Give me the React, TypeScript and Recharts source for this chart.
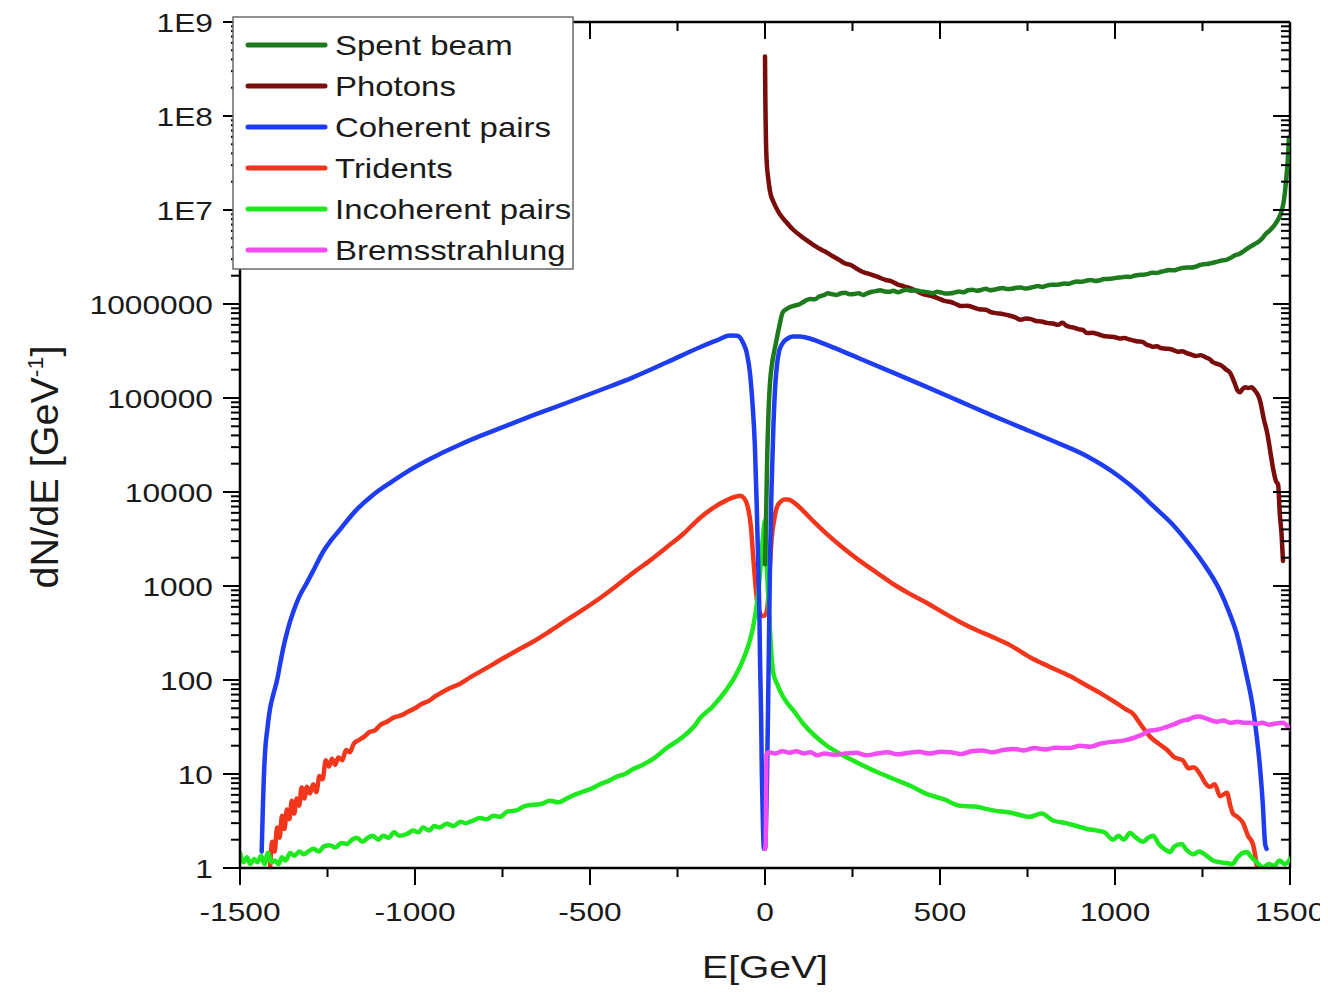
import React from 'react';
import { LineChart, Line, XAxis, YAxis, Legend, ReferenceLine } from 'recharts';

// ---------- axis ticks ----------
const X_TICKS = [-1500, -1250, -1000, -750, -500, -250, 0, 250, 500, 750, 1000, 1250, 1500];
const X_MAJOR = [-1500, -1000, -500, 0, 500, 1000, 1500];
const Y_MAJOR = [1, 10, 100, 1000, 10000, 100000, 1000000, 1e7, 1e8, 1e9];
const Y_LABELS = ['1', '10', '100', '1000', '10000', '100000', '1000000', '1E7', '1E8', '1E9'];
const Y_MINOR_MULT = [2, 3, 4, 5, 6, 7, 8, 9];
const Y_TICKS = [...Y_MAJOR, ...Y_MAJOR.slice(0, -1).flatMap((d) => Y_MINOR_MULT.map((m) => m * d))].sort((a, b) => a - b);

// ---------- series data: [E (GeV), dN/dE] ----------
const spentBeam: [number, number][] = [
  [0, 1700], [3, 5000], [6, 21000], [10, 70000], [14, 140000], [20, 230000], [29, 350000], [40, 560000], [51, 820000],
  [65, 900000], [80, 950000], [100, 1.0e6], [115, 1.08e6], [129, 1.13e6], [142, 1.12e6], [155, 1.2e6], [168, 1.24e6],
  [180, 1.3e6], [192, 1.27e6], [205, 1.25e6], [217, 1.3e6], [229, 1.32e6], [242, 1.27e6], [255, 1.28e6], [268, 1.3e6],
  [280, 1.25e6], [292, 1.3e6], [305, 1.35e6], [317, 1.37e6], [329, 1.4e6], [342, 1.36e6], [355, 1.35e6], [367, 1.38e6],
  [380, 1.33e6], [392, 1.38e6], [405, 1.42e6], [417, 1.38e6], [429, 1.4e6], [442, 1.37e6], [455, 1.35e6], [467, 1.33e6],
  [480, 1.3e6], [492, 1.35e6], [505, 1.32e6], [518, 1.29e6], [531, 1.3e6], [543, 1.33e6], [555, 1.36e6], [567, 1.33e6],
  [580, 1.4e6], [592, 1.42e6], [605, 1.38e6], [618, 1.41e6], [631, 1.45e6], [643, 1.4e6], [655, 1.42e6], [668, 1.46e6],
  [680, 1.48e6], [692, 1.44e6], [705, 1.45e6], [718, 1.49e6], [731, 1.5e6], [743, 1.46e6], [755, 1.48e6], [768, 1.52e6],
  [780, 1.55e6], [792, 1.52e6], [805, 1.57e6], [818, 1.6e6], [831, 1.6e6], [843, 1.62e6], [855, 1.65e6], [868, 1.64e6],
  [880, 1.7e6], [892, 1.73e6], [905, 1.72e6], [918, 1.77e6], [931, 1.8e6], [943, 1.76e6], [955, 1.78e6], [968, 1.84e6],
  [980, 1.85e6], [993, 1.87e6], [1005, 1.9e6], [1018, 1.92e6], [1031, 1.95e6], [1043, 1.94e6], [1055, 2.0e6],
  [1068, 2.04e6], [1080, 2.05e6], [1093, 2.08e6], [1105, 2.15e6], [1118, 2.14e6], [1131, 2.2e6], [1143, 2.25e6],
  [1155, 2.3e6], [1168, 2.28e6], [1180, 2.35e6], [1193, 2.42e6], [1205, 2.45e6], [1218, 2.44e6], [1231, 2.5e6],
  [1243, 2.6e6], [1255, 2.65e6], [1268, 2.68e6], [1280, 2.75e6], [1293, 2.82e6], [1305, 2.9e6], [1318, 2.95e6],
  [1331, 3.1e6], [1343, 3.3e6], [1355, 3.4e6], [1370, 3.7e6], [1383, 4.0e6], [1397, 4.3e6], [1410, 4.6e6],
  [1421, 5.0e6], [1431, 5.6e6], [1441, 6.0e6], [1450, 6.5e6], [1458, 7.1e6], [1465, 7.8e6], [1470, 8.5e6],
  [1475, 9.5e6], [1480, 1.12e7], [1483, 1.3e7], [1486, 1.6e7], [1489, 2.1e7], [1492, 2.8e7], [1494, 3.5e7],
  [1497, 5.9e7],
];

const photons: [number, number][] = [
  [0, 4.3e8], [1, 1.5e8], [2, 8e7], [3, 5e7], [5, 3.2e7], [9, 2.2e7], [14, 1.6e7], [25, 1.2e7], [40, 9.3e6], [60, 7.5e6],
  [80, 6.2e6], [105, 5.2e6], [129, 4.5e6], [145, 4.1e6], [160, 3.8e6], [178, 3.5e6], [195, 3.2e6], [212, 2.95e6],
  [229, 2.7e6], [245, 2.6e6], [260, 2.4e6], [278, 2.2e6], [295, 2.1e6], [312, 2.0e6], [329, 1.9e6], [345, 1.8e6],
  [360, 1.75e6], [378, 1.62e6], [395, 1.55e6], [412, 1.48e6], [429, 1.4e6], [445, 1.3e6], [460, 1.25e6], [478, 1.21e6],
  [495, 1.15e6], [512, 1.08e6], [531, 1.05e6], [545, 1.0e6], [560, 9.5e5], [578, 9.6e5], [595, 9.2e5], [612, 8.8e5],
  [631, 8.7e5], [645, 8.2e5], [660, 8.0e5], [680, 7.8e5], [700, 7.5e5], [715, 7.2e5], [731, 6.8e5], [745, 7.0e5],
  [760, 6.9e5], [775, 6.6e5], [790, 6.5e5], [806, 6.3e5], [823, 6.2e5], [837, 6.0e5], [850, 6.3e5], [860, 5.9e5],
  [871, 5.7e5], [883, 5.6e5], [895, 5.4e5], [908, 5.3e5], [920, 4.9e5], [935, 4.95e5], [950, 4.8e5], [965, 4.6e5],
  [980, 4.5e5], [997, 4.45e5], [1014, 4.3e5], [1027, 4.35e5], [1040, 4.2e5], [1052, 4.1e5], [1065, 4.0e5],
  [1078, 3.95e5], [1090, 3.7e5], [1100, 3.6e5], [1109, 3.5e5], [1120, 3.55e5], [1130, 3.4e5], [1145, 3.35e5],
  [1160, 3.3e5], [1170, 3.2e5], [1180, 3.1e5], [1192, 3.15e5], [1205, 3.0e5], [1218, 2.9e5], [1230, 2.8e5],
  [1245, 2.85e5], [1260, 2.7e5], [1270, 2.6e5], [1280, 2.4e5], [1293, 2.3e5], [1305, 2.2e5], [1318, 2.0e5],
  [1329, 1.85e5], [1337, 1.6e5], [1343, 1.4e5], [1350, 1.2e5], [1357, 1.15e5], [1365, 1.25e5], [1372, 1.3e5],
  [1381, 1.28e5], [1390, 1.3e5], [1400, 1.2e5], [1407, 1.1e5], [1414, 9.5e4], [1420, 7.5e4], [1425, 6e4],
  [1434, 4.4e4], [1440, 3.3e4], [1445, 2.5e4], [1452, 1.75e4], [1460, 1.3e4], [1466, 1.2e4], [1471, 5700],
  [1476, 3500], [1480, 1850],
];

const coherentPairs: [number, number][] = [
  [-1438, 1.5], [-1435, 4], [-1432, 9], [-1428, 18], [-1422, 30], [-1414, 50], [-1404, 72], [-1394, 100], [-1385, 150],
  [-1377, 214], [-1363, 350], [-1349, 515], [-1330, 780], [-1309, 1080], [-1285, 1600], [-1263, 2300], [-1240, 3050],
  [-1214, 4000], [-1170, 6300], [-1120, 9300], [-1070, 12600], [-1023, 16400], [-975, 20700], [-929, 25400],
  [-880, 30900], [-834, 36700], [-780, 44200], [-729, 52500], [-660, 66000], [-566, 89000], [-470, 121600],
  [-377, 166000], [-280, 240000], [-186, 347000], [-140, 407000], [-100, 462000], [-80, 460000], [-63, 390000],
  [-52, 300000], [-43, 185000], [-36, 90000], [-29, 31600], [-24, 8000], [-20, 2140], [-16, 500], [-14, 148], [-11, 40],
  [-9, 10], [-6, 3], [-3, 1.6], [0, 1.6], [3, 3], [6, 10], [9, 60], [12, 400], [15, 2500], [19, 12000], [24, 50000],
  [29, 130000], [34, 220000], [40, 310000], [50, 380000], [63, 425000], [80, 450000], [100, 450000], [130, 427000],
  [177, 367000], [270, 263000], [366, 186000], [460, 132000], [557, 92000], [650, 65000], [729, 49000], [830, 34000],
  [920, 24000], [1010, 14800], [1071, 9700], [1109, 7100], [1160, 4700], [1205, 3000], [1250, 1800], [1300, 890],
  [1325, 540], [1348, 310], [1372, 130], [1395, 48], [1405, 25], [1414, 12], [1422, 5], [1429, 1.8], [1433, 1.6],
];

const tridents: [number, number][] = [
  [-1414, 1], [-1408, 1.9], [-1401, 1.5], [-1394, 2.7], [-1387, 2.1], [-1380, 3.6], [-1373, 2.6], [-1366, 4.2],
  [-1359, 3.3], [-1352, 5.2], [-1345, 3.8], [-1338, 5.5], [-1331, 4.6], [-1324, 7.2], [-1316, 5.5], [-1309, 7.3],
  [-1300, 6.2], [-1291, 7.8], [-1282, 6.4], [-1273, 9.5], [-1264, 8.8], [-1255, 14], [-1246, 12], [-1237, 14.5],
  [-1228, 12.5], [-1219, 15], [-1208, 14], [-1197, 18], [-1186, 17], [-1175, 21], [-1160, 23], [-1145, 25], [-1130, 28],
  [-1115, 29], [-1100, 33], [-1080, 36], [-1060, 40], [-1040, 42], [-1020, 46], [-1000, 50], [-980, 56], [-960, 60],
  [-940, 68], [-920, 75], [-900, 82], [-870, 92], [-840, 108], [-810, 125], [-780, 145], [-757, 163], [-710, 205],
  [-663, 255], [-615, 330], [-566, 435], [-520, 560], [-471, 745], [-425, 1000], [-377, 1380], [-330, 1850],
  [-280, 2600], [-233, 3600], [-186, 5300], [-150, 6700], [-109, 8200], [-85, 8900], [-71, 9100], [-60, 8600],
  [-49, 6900], [-40, 4200], [-34, 2100], [-28, 1100], [-23, 700], [-15, 520], [-7, 480], [0, 490], [7, 600], [13, 1400],
  [19, 3200], [26, 5000], [34, 6900], [45, 7900], [55, 8300], [66, 8300], [85, 7600], [109, 6300], [140, 4800],
  [177, 3570], [220, 2600], [271, 1850], [320, 1380], [366, 1050], [415, 820], [463, 660], [510, 520], [557, 415],
  [604, 340], [651, 286], [700, 235], [757, 175], [810, 140], [871, 110], [920, 87], [957, 73], [985, 63], [1010, 55],
  [1030, 49], [1051, 44], [1075, 33], [1100, 25], [1125, 21], [1149, 18], [1170, 15], [1194, 14], [1210, 11.5],
  [1225, 11.8], [1243, 10], [1258, 8], [1271, 7.3], [1285, 7.8], [1300, 5.8], [1320, 6.3], [1330, 4.5], [1337, 3.8],
  [1350, 3.5], [1366, 3], [1380, 2.2], [1394, 1.8], [1406, 1],
];

const incoherentPairs: [number, number][] = [
  [-1500, 1.45], [-1490, 1.15], [-1480, 1.3], [-1471, 1.1], [-1460, 1.25], [-1450, 1.15], [-1440, 1.35], [-1430, 1.1],
  [-1420, 1.45], [-1410, 1.15], [-1400, 1.2], [-1390, 1.1], [-1380, 1.3], [-1370, 1.2], [-1357, 1.44], [-1345, 1.35],
  [-1330, 1.5], [-1318, 1.4], [-1305, 1.5], [-1290, 1.6], [-1275, 1.5], [-1260, 1.7], [-1243, 1.75], [-1228, 1.65],
  [-1210, 1.85], [-1195, 1.8], [-1180, 2.0], [-1166, 2.1], [-1150, 1.9], [-1135, 2.1], [-1120, 2.2], [-1105, 2.0],
  [-1091, 2.2], [-1075, 2.1], [-1060, 2.4], [-1045, 2.2], [-1023, 2.3], [-1005, 2.5], [-990, 2.4], [-977, 2.7],
  [-960, 2.5], [-945, 2.8], [-930, 2.7], [-909, 2.95], [-890, 2.8], [-870, 3.1], [-855, 3.0], [-834, 3.2], [-815, 3.4],
  [-795, 3.3], [-776, 3.6], [-757, 3.5], [-735, 4.0], [-710, 4.1], [-690, 4.5], [-663, 4.7], [-640, 4.8], [-615, 5.2],
  [-590, 5.0], [-566, 5.5], [-545, 6.0], [-520, 6.5], [-495, 7.0], [-471, 7.8], [-445, 8.5], [-420, 9.5], [-400, 10],
  [-377, 11.3], [-350, 12.5], [-320, 14.5], [-280, 19], [-240, 24], [-200, 33], [-186, 39], [-150, 52], [-109, 80],
  [-85, 110], [-63, 163], [-45, 250], [-34, 365], [-22, 700], [-14, 1380], [-7, 3000], [0, 5000], [4, 2000], [9, 800],
  [14, 350], [23, 122], [35, 90], [50, 68], [65, 56], [80, 48], [110, 34], [140, 26], [177, 20], [220, 16], [271, 12.8],
  [320, 10.5], [366, 8.9], [415, 7.5], [463, 6.1], [510, 5.4], [557, 4.6], [600, 4.5], [651, 4.1], [700, 3.9],
  [757, 3.5], [790, 3.8], [823, 3.2], [860, 3.0], [890, 2.8], [920, 2.6], [950, 2.5], [970, 2.4], [994, 2.0],
  [1010, 2.2], [1025, 2.0], [1043, 2.35], [1060, 2.1], [1080, 1.9], [1095, 2.1], [1109, 2.2], [1125, 1.8], [1140, 1.6],
  [1157, 1.48], [1170, 1.7], [1190, 1.8], [1205, 1.55], [1225, 1.4], [1240, 1.5], [1263, 1.34], [1280, 1.2],
  [1300, 1.15], [1320, 1.13], [1335, 1.1], [1350, 1.3], [1365, 1.45], [1377, 1.48], [1390, 1.3], [1405, 1.15],
  [1423, 1.02], [1440, 1.1], [1455, 1.05], [1470, 1.2], [1485, 1.1], [1500, 1.25],
];

const bremsstrahlung: [number, number][] = [
  [0, 1.6], [2, 1.8], [4, 16], [10, 17], [30, 16.5], [50, 17.5], [70, 16.8], [90, 17.5], [110, 16.5], [130, 17],
  [150, 15.8], [170, 16.5], [200, 16], [230, 16.5], [260, 16.8], [290, 15.8], [320, 16.5], [350, 17], [380, 16.2],
  [410, 16.8], [440, 17.2], [470, 16.5], [500, 17.2], [530, 17], [560, 16.3], [590, 17.5], [620, 17.8], [650, 17],
  [680, 18], [710, 18.5], [740, 17.8], [770, 18.9], [800, 18.2], [830, 19], [871, 18.9], [900, 20], [930, 19.5],
  [957, 21], [990, 22], [1020, 22.5], [1050, 24], [1063, 25], [1080, 26.5], [1100, 29], [1120, 29.5], [1150, 32],
  [1170, 34], [1194, 37], [1210, 38], [1223, 40], [1240, 41], [1260, 39], [1291, 36], [1310, 37], [1330, 35],
  [1350, 36], [1370, 35], [1386, 35], [1405, 34], [1420, 35], [1440, 33.5], [1460, 34.5], [1480, 35], [1490, 33],
  [1500, 30],
];

const SERIES = [
  { name: 'Spent beam', color: '#1d7a1d', data: spentBeam },
  { name: 'Photons', color: '#7a0c0c', data: photons },
  { name: 'Coherent pairs', color: '#1e3cf0', data: coherentPairs },
  { name: 'Tridents', color: '#f2361c', data: tridents },
  { name: 'Incoherent pairs', color: '#1ee81e', data: incoherentPairs },
  { name: 'Bremsstrahlung', color: '#f04cf0', data: bremsstrahlung },
];
const DRAW_ORDER = ['Tridents', 'Incoherent pairs', 'Coherent pairs', 'Photons', 'Spent beam', 'Bremsstrahlung'];

// ---------- layout ----------
const CHART_W = 1320;
const CHART_H = 980;
const Y_AXIS_W = 232;
const X_AXIS_H = 120;
const MARGIN = { top: 14, right: 38, bottom: 0, left: 0 };
const PLOT_W = CHART_W - Y_AXIS_W - MARGIN.right;
const PLOT_H = CHART_H - MARGIN.top - X_AXIS_H;
const FONT = "'Liberation Sans', Arial, Helvetica, sans-serif";
const TEXT = '#1a1a1a';
const SX = 1.22;

const LeftTick = (props: any) => {
  const { x, y, payload } = props;
  const idx = Y_MAJOR.indexOf(payload.value);
  const major = idx >= 0;
  const len = major ? 17 : 9;
  return (
    <g>
      <line x1={x - len} x2={x} y1={y} y2={y} stroke="#000" strokeWidth={2} />
      <line x1={x + PLOT_W - len} x2={x + PLOT_W} y1={y} y2={y} stroke="#000" strokeWidth={2} />
      {major && (
        <text
          transform={`translate(${x - 27},${y + 9.5}) scale(${SX},1)`}
          textAnchor="end"
          fontSize={26}
          fontFamily={FONT}
          fill={TEXT}
        >
          {Y_LABELS[idx]}
        </text>
      )}
    </g>
  );
};

const BottomTick = (props: any) => {
  const { x, y, payload } = props;
  const major = X_MAJOR.indexOf(payload.value) >= 0;
  const len = major ? 17 : 9;
  return (
    <g>
      <line x1={x} x2={x} y1={y} y2={y + len} stroke="#000" strokeWidth={2} />
      <line x1={x} x2={x} y1={y - PLOT_H} y2={y - PLOT_H + len} stroke="#000" strokeWidth={2} />
      {major && (
        <text
          transform={`translate(${x},${y + 53}) scale(${SX},1)`}
          textAnchor="middle"
          fontSize={26}
          fontFamily={FONT}
          fill={TEXT}
        >
          {String(payload.value)}
        </text>
      )}
    </g>
  );
};

const XTitle = (props: any) => {
  const vb = props.viewBox || { x: Y_AXIS_W, y: MARGIN.top + PLOT_H, width: PLOT_W };
  const cx = vb.x + vb.width / 2;
  return (
    <text
      transform={`translate(${cx},${MARGIN.top + PLOT_H + 110}) scale(${SX},1)`}
      textAnchor="middle"
      fontSize={32}
      fontFamily={FONT}
      fill={TEXT}
    >
      E[GeV]
    </text>
  );
};

const YTitle = () => (
  <text
    transform={`translate(50,459) scale(1.08,1.1) rotate(-90)`}
    textAnchor="middle"
    fontSize={36}
    fontFamily={FONT}
    fill={TEXT}
  >
    dN/dE [GeV
    <tspan dy={-14} fontSize={21}>-1</tspan>
    <tspan dy={14}>]</tspan>
  </text>
);

const LegendBox = () => (
  <svg width={342} height={254} style={{ display: 'block' }}>
    <rect x={1} y={1} width={340} height={252} fill="#fff" stroke="#6a6a6a" strokeWidth={1.5} />
    {SERIES.map((s, i) => {
      const cy = 29 + 41 * i;
      return (
        <g key={s.name}>
          <line x1={16} x2={93} y1={cy} y2={cy} stroke={s.color} strokeWidth={5} strokeLinecap="round" />
          <text
            transform={`translate(103,${cy + 9.5}) scale(${SX},1)`}
            fontSize={27}
            fontFamily={FONT}
            fill={TEXT}
          >
            {s.name}
          </text>
        </g>
      );
    })}
  </svg>
);

const toRows = (pairs: [number, number][]) => pairs.map(([e, n]) => ({ e, n }));

export default function App() {
  const ordered = DRAW_ORDER.map((n) => SERIES.find((s) => s.name === n)!);
  return (
    <div style={{ width: CHART_W, height: CHART_H, background: '#fff' }}>
      <LineChart width={CHART_W} height={CHART_H} margin={MARGIN}>
        <XAxis
          dataKey="e"
          type="number"
          domain={[-1500, 1500]}
          ticks={X_TICKS}
          interval={0}
          allowDataOverflow
          height={X_AXIS_H}
          tickSize={0}
          tickMargin={0}
          tickLine={false}
          axisLine={{ stroke: '#000', strokeWidth: 2.5 }}
          tick={<BottomTick />}
          label={<XTitle />}
        />
        <YAxis
          type="number"
          scale="log"
          domain={[1, 1e9]}
          ticks={Y_TICKS}
          interval={0}
          allowDataOverflow
          width={Y_AXIS_W}
          tickSize={0}
          tickMargin={0}
          tickLine={false}
          axisLine={{ stroke: '#000', strokeWidth: 2.5 }}
          tick={<LeftTick />}
          label={<YTitle />}
        />
        <ReferenceLine x={1500} stroke="#000" strokeWidth={2.5} />
        <ReferenceLine y={1e9} stroke="#000" strokeWidth={2.5} />
        {ordered.map((s) => (
          <Line
            key={s.name}
            name={s.name}
            data={toRows(s.data)}
            dataKey="n"
            type="monotone"
            stroke={s.color}
            strokeWidth={4.5}
            strokeLinejoin="round"
            strokeLinecap="round"
            dot={false}
            activeDot={false}
            isAnimationActive={false}
          />
        ))}
        <Legend
          layout="vertical"
          align="center"
          verticalAlign="middle"
          content={<LegendBox />}
          wrapperStyle={{ left: 224, top: 8, width: 342, height: 254 }}
        />
      </LineChart>
    </div>
  );
}
